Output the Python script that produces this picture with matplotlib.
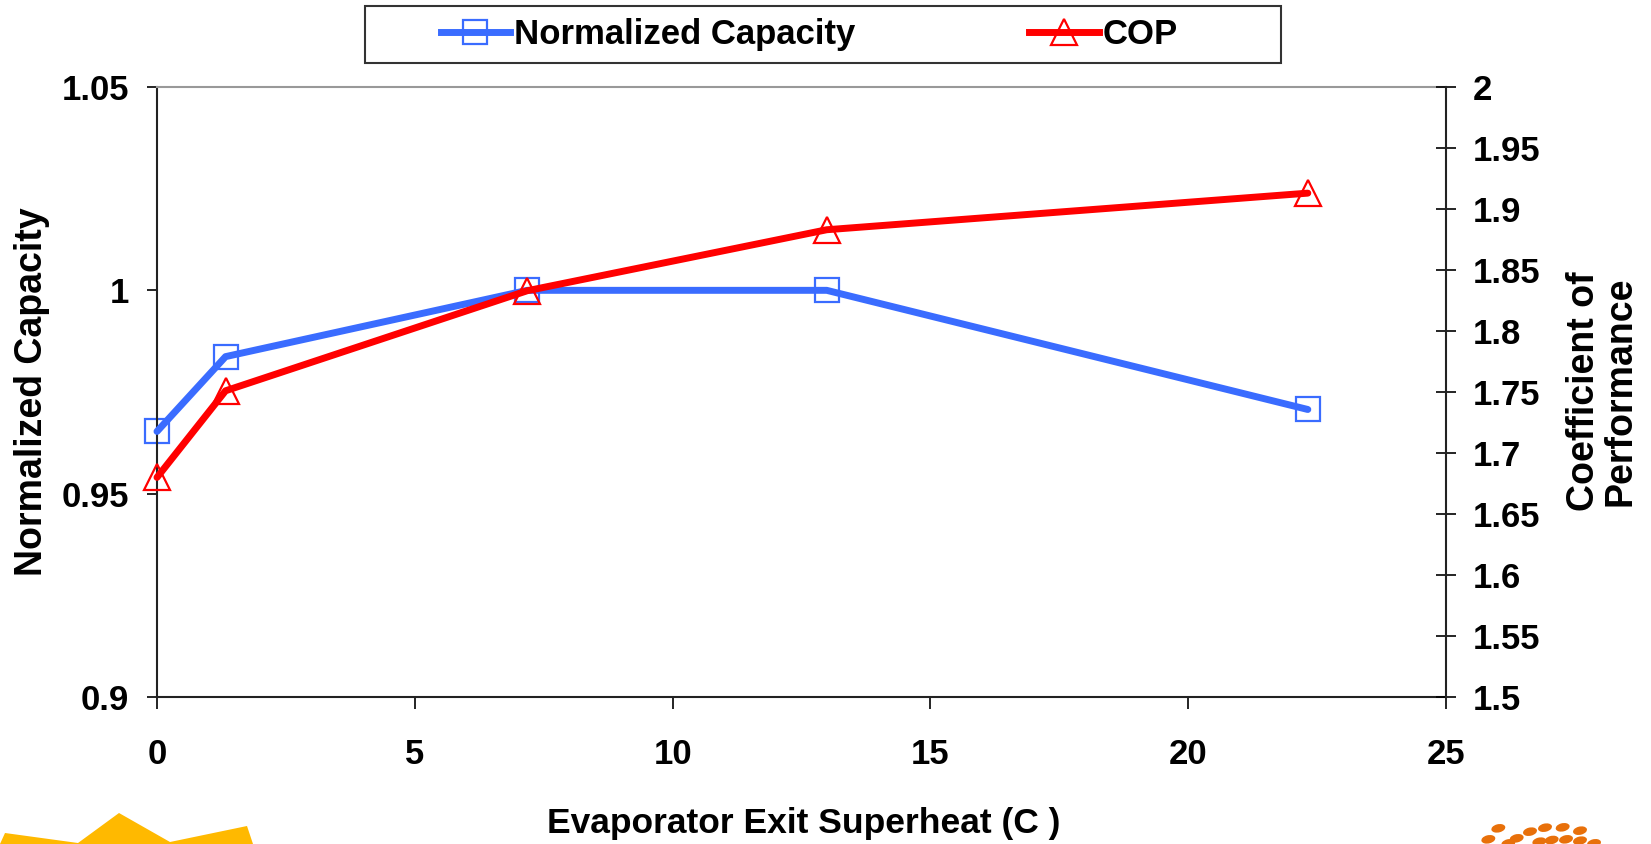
import matplotlib
matplotlib.use("Agg")
import matplotlib.pyplot as plt
from matplotlib.lines import Line2D
from matplotlib.patches import Rectangle, Polygon, Ellipse

# ---- data ----
superheat = [0, 1.33, 7.18, 12.99, 22.32]
norm_capacity = [0.9653, 0.9837, 1.0, 1.0, 0.9707]
cop = [1.680, 1.751, 1.833, 1.883, 1.913]

x_ticks = [0, 5, 10, 15, 20, 25]
left_ticks = [0.9, 0.95, 1.0, 1.05]
left_labels = ["0.9", "0.95", "1", "1.05"]
right_ticks = [1.5, 1.55, 1.6, 1.65, 1.7, 1.75, 1.8, 1.85, 1.9, 1.95, 2.0]
right_labels = ["1.5", "1.55", "1.6", "1.65", "1.7", "1.75", "1.8", "1.85", "1.9", "1.95", "2"]

BLUE = "#3a6cff"
RED = "#ff0000"

plt.rcParams["font.family"] = ["Liberation Sans", "DejaVu Sans"]
plt.rcParams["font.weight"] = "bold"

W, H = 1651, 844
fig = plt.figure(figsize=(W / 100, H / 100), dpi=100)
ax = fig.add_axes([157 / W, 1 - 697 / H, (1446 - 157) / W, (697 - 87) / H])
ax2 = ax.twinx()

# markers (behind), then lines on top
ax.plot(superheat, norm_capacity, ls="none", marker="s", ms=17, mfc="none",
        mec=BLUE, mew=1.6, zorder=2, clip_on=False)
ax.plot(superheat, norm_capacity, color=BLUE, lw=5, solid_capstyle="round",
        zorder=3, clip_on=False)
ax2.plot(superheat, cop, ls="none", marker="^", ms=19, mfc="none",
         mec=RED, mew=1.6, zorder=2, clip_on=False)
ax2.plot(superheat, cop, color=RED, lw=5, solid_capstyle="round",
         zorder=3, clip_on=False)

ax.set_xlim(0, 25)
ax.set_ylim(0.9, 1.05)
ax2.set_ylim(1.5, 2.0)

ax.set_xticks(x_ticks)
ax.set_xticklabels([str(t) for t in x_ticks])
ax.set_yticks(left_ticks)
ax.set_yticklabels(left_labels)
ax2.set_yticks(right_ticks)
ax2.set_yticklabels(right_labels)

ax.tick_params(axis="x", direction="out", length=8.6, width=1.2, pad=21,
               labelsize=25)
ax.tick_params(axis="y", direction="out", length=7.2, width=1.2, pad=13,
               labelsize=25)
ax2.tick_params(axis="y", direction="inout", length=15, width=1.2, pad=12,
                labelsize=25)
for lab in ax.get_xticklabels() + ax.get_yticklabels() + ax2.get_yticklabels():
    lab.set_fontweight("bold")

for s in ["left", "bottom"]:
    ax.spines[s].set_color("#222222")
    ax.spines[s].set_linewidth(1.5)
ax.spines["right"].set_visible(False)
ax.spines["top"].set_color("#999999")
ax.spines["top"].set_linewidth(1.5)
for s in ["left", "bottom", "top"]:
    ax2.spines[s].set_visible(False)
ax2.spines["right"].set_color("#222222")
ax2.spines["right"].set_linewidth(1.5)

# axis labels
fig.text(32 / W, 1 - 392 / H, "Normalized Capacity", rotation=90,
         ha="center", va="center", fontsize=27, fontweight="bold")
fig.text(1602 / W, 1 - 391 / H, "Coefficient of\nPerformance", rotation=90,
         ha="center", va="center", fontsize=27, fontweight="bold",
         linespacing=1.0)
fig.text(804 / W, 1 - 824 / H, "Evaporator Exit Superheat (C )",
         ha="center", va="center", fontsize=25.5, fontweight="bold")

# legend
handles = [
    Line2D([], [], color=BLUE, lw=5, marker="s", ms=17, mfc="none",
           mec=BLUE, mew=1.6),
    Line2D([], [], color=RED, lw=5, marker="^", ms=19, mfc="none",
           mec=RED, mew=1.6),
]
leg = fig.legend(handles, ["Normalized Capacity", "COP"], ncol=2,
                 loc="center", bbox_to_anchor=(809.5 / W, 1 - 34.5 / H),
                 frameon=False, prop={"size": 25, "weight": "bold"},
                 handlelength=2.0, handletextpad=0.12, columnspacing=5.0)
fig.patches.append(Rectangle((365 / W, 1 - 63 / H), (1281 - 365) / W, 57 / H,
                             transform=fig.transFigure, fill=False,
                             edgecolor="#333333", lw=1.5))

# decorative logo fragments at bottom corners
pts = [(5, 833), (78, 843), (119, 813), (170, 842), (247, 826), (253, 844),
       (0, 844)]
fig.patches.append(Polygon([(px / W, 1 - py / H) for px, py in pts],
                           closed=True, transform=fig.transFigure,
                           facecolor="#ffb900", edgecolor="none"))
dots = [(145, 115), (115, 148), (200, 145), (240, 125), (285, 113), (338, 112),
        (390, 122), (175, 160), (268, 155), (305, 150), (348, 148), (390, 152),
        (432, 160)]
for dx, dy in dots:
    cx = (1450 + dx / 3) / W
    cy = 1 - (790 + dy / 3) / H
    fig.patches.append(Ellipse((cx, cy), 13 / W, 9 / H, angle=-25,
                               transform=fig.transFigure,
                               facecolor="#e8700a", edgecolor="none"))

fig.savefig("out.png", dpi=100)
